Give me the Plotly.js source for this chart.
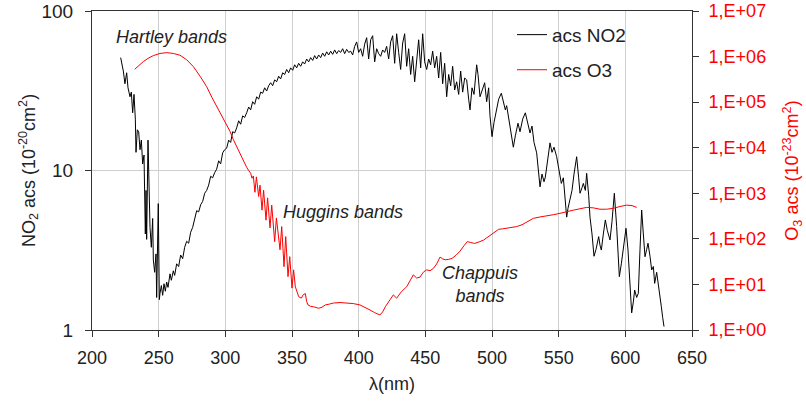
<!DOCTYPE html>
<html>
<head>
<meta charset="utf-8">
<script src="https://cdn.plot.ly/plotly-3.0.1.min.js"></script>
<style>html,body{margin:0;padding:0;background:#fff;}#chart{width:806px;height:406px;}</style>
</head>
<body>
<div id="chart"></div>
<script>
// NO2 absorption cross-section (10^-20 cm^2), wavelength in nm
const no2Wavelength = [221.5,222.5,223.5,224.7,226,227,228.5,229.5,230.5,231.5,232.5,233,234,235,236,237,238,239,240,240.5,241,242,243,243.5,244.5,245.5,246,247,248,248.5,249.7,250.5,251,252,253,254,255,256,257,258.5,259.5,261,262,263.5,265,266.5,268,269.5,271,272.5,274,275.5,277,278.5,280,281.5,283,284.5,286,287.5,289,290.5,292,293.5,295,296.5,298,299.5,301,302.5,304,305.5,307,308.5,310,311.5,313,314.5,316,317.5,319,320.5,322,323.5,325,326.5,328,329.5,331,332.5,334,335.5,337,338.5,340,341.5,343,344.5,346,347.5,349,350.5,352,353.5,355,356.5,358,359.5,361,362.5,364,365.5,367,368.5,370,371.5,373,374.5,376,377.5,379,380.5,382,383.5,385,386.5,388,389.5,391,392.5,394,395.5,397,398.5,400,401.5,403,404.5,406,407.5,409,410.5,412,413.5,415,416.5,418,419.5,421,422.5,424,425.5,427,428.5,430,431.5,433,434.5,436,437.5,439,440.5,442,443.5,445,446.5,448,449.5,451,452.5,454,455.5,457,458.5,460,461.5,463,464.5,466,467.5,469,470.5,472,473.5,475,476.5,478,479.5,481,482.5,483.5,485,486.5,488.5,489.5,491,492.5,494.5,496,497.5,498.5,500,501.5,503.5,505,507,508.5,510,511,513,514.5,516,517.5,519.5,521,523,525,526.5,528.5,530,531.5,533.5,535,536,537.5,539,540,541.5,543.5,545,546.5,548.5,550,552,553.5,555,556,557,558.5,560,561.5,563.5,565,566,567.5,568.5,570,571,572.5,573.5,575,576.5,578,580,581,582,583.5,585,586.5,588.5,590,591.75,593.5,594.5,595.5,597,598.5,600.5,602,603.5,604.75,606,607,608.5,609.75,611,612.25,613.5,614.75,616,617,618.5,619.75,621,622,623.5,624.75,626,627,628,629];
const no2Acs = [51,47,42,35,41,33,29,31,23,30,21,13,18,17.5,13.5,15.5,11,12.5,4,7.5,3.7,15.5,6,4.4,3.3,5,2.75,2.3,3,1.6,6.2,1.55,1.7,1.9,1.65,1.95,1.75,2.0,1.85,2.25,2.05,2.35,2.2,2.6,2.5,2.95,2.8,3.3,3.6,3.5,4.1,4.4,4.9,5.6,5.5,6.1,6.4,7.2,7.5,8.1,9.2,9.0,9.7,10.2,11.5,11.0,12.9,13.5,13.8,15.5,15.0,17.5,17.2,18.5,20.5,19.5,22,21.5,23,25,24,27,26,29,28,31,30.5,33,31.5,34,35.5,34,37,36,39,37.5,41,40,43,41,44,42.5,46,44,47,45,48,46.5,50,48,51,49,52.5,50,53,51,54.5,52,55.5,53,56,53.5,57,54,56.5,55,58,54,57.5,55,56,53,60,64,55,58,52,62,68,50,66,70,48,58,54,52,57,55,60,50,64,70,47,72,55,43,63,72,45,58,40,52,36,47,66,44,72,48,43,50,46,56,44,52,38,55,35,47,29,40,34,45,32,36,30,42,31,38,37,28,24,33,30,46,40,29,32,35.5,27,33,22,16.3,20,24,28,30.5,27,24,25.5,20,17,14,16.5,19.8,17.5,21,23,20,17.2,19,15,12.9,10,7.9,9.5,8.5,9.1,11.5,14.9,13,14,12.2,10.5,8.3,9,6.5,5.1,5.8,6.5,7.5,9.5,12.2,9,7.2,7.8,8.3,7.5,9.6,7,5.1,4,2.9,3.2,3.85,3.4,3.17,4.0,4.9,4.2,3.67,4.8,7.2,4.45,3,2.16,2.6,3.17,4.34,3.17,1.8,1.28,1.5,1.78,1.6,1.7,3.2,5.65,4,2.88,3.2,3.5,2.9,2.38,2.5,1.96,2.3,1.87,1.6,1.4,1.2,1.05];

// O3 absorption cross-section (10^-23 cm^2), wavelength in nm
const o3Wavelength = [232,235,238.5,242,246,251,256,261,266,271,276,281,286,290,293.5,297,300,303.5,306,308.5,311,313.5,316,317.5,319,320,321,322.2,323.3,325,326,327.5,328.7,330.5,331.7,333.5,334.8,337,338.3,341,342.3,344,345.3,347,348.3,350,351.2,352.5,355,357,358.5,360,361,362,364,366,368,370,372.5,375,378,381,386,391,396,401,405,408.5,412,416,418,420,423.5,426,428.5,432,436,438.5,441,443.5,446,448.5,451,453.5,456,458.5,461,463,465,467.5,470,473,476,479,481.5,484,487,490,493.5,496,498.5,502,505,508,511,514.5,518.5,522.5,527,531,536,541,546,551,556,561,566,571,576,581,586,591,596,601,605,608.5];
const o3Acs = [5.25e5,6.31e5,7.76e5,9.12e5,1.05e6,1.17e6,1.22e6,1.17e6,1.07e6,8.51e5,6.03e5,3.72e5,2.19e5,1.26e5,7.94e4,5.01e4,3.47e4,2.29e4,1.51e4,1.05e4,7590,5370,3720,3160,2750,2140,2400,1050,2290,851,1510,427,1170,257,794,174,550,87,288,57.5,186,24.5,112,14.8,40.7,8.3,20.9,8.9,5.4,5.0,6.0,6.3,4.2,3.55,3.3,3.24,3.1,3.0,3.16,3.55,3.7,3.9,4.0,3.9,3.8,3.55,3.16,2.75,2.4,2.14,2.5,3.24,4.6,5.9,5.0,6.9,8.9,12.0,16.2,13.8,14.5,18.6,20.9,20.0,22.4,28.2,39.8,36.3,34.7,35.5,37.2,43.7,53.7,70.8,87.1,83.2,79.4,85.1,93.3,105,120,141,162,166,170,178,186,204,240,282,302,316,339,363,398,427,457,490,479,447,447,468,513,550,537,490];

// Axis ticks
const xTicks = [200,250,300,350,400,450,500,550,600,650];
const no2Ticks = [1,10,100];
const no2TickLabels = ['1','10','100'];
const o3Ticks = [1,10,100,1e3,1e4,1e5,1e6,1e7];
const o3TickLabels = ['1,E+00','1,E+01','1,E+02','1,E+03','1,E+04','1,E+05','1,E+06','1,E+07'];

const FONT = 'Liberation Sans, Arial, sans-serif';

const traces = [
  {x: no2Wavelength, y: no2Acs, type: 'scatter', mode: 'lines', name: 'acs NO2',
   line: {color: '#000000', width: 1}, yaxis: 'y', legend: 'legend'},
  {x: o3Wavelength, y: o3Acs, type: 'scatter', mode: 'lines', name: 'acs O3',
   line: {color: '#ff0000', width: 1}, yaxis: 'y2', legend: 'legend2'}
];

const layout = {
  width: 806, height: 406,
  margin: {l: 92, r: 114, t: 11, b: 76},
  paper_bgcolor: '#ffffff', plot_bgcolor: '#ffffff',
  font: {family: FONT, size: 18, color: '#222222'},
  showlegend: true,
  hovermode: false,
  xaxis: {
    range: [200, 650], tickvals: xTicks, ticktext: xTicks.map(String),
    showgrid: true, gridcolor: '#cfcfcf', gridwidth: 1,
    zeroline: false, showline: true, linecolor: '#333333', linewidth: 1, mirror: true,
    ticks: 'outside', ticklen: 6, tickcolor: '#333333', ticklabelstandoff: 5,
    tickfont: {family: FONT, size: 18, color: '#222222'},
    title: {text: 'λ(nm)', font: {family: FONT, size: 18, color: '#222222'}, standoff: 10}
  },
  yaxis: {
    type: 'log', range: [0, 2], tickvals: no2Ticks, ticktext: no2TickLabels,
    showgrid: true, gridcolor: '#cfcfcf', gridwidth: 1,
    zeroline: false, showline: true, linecolor: '#333333', linewidth: 1,
    ticks: 'outside', ticklen: 6, tickcolor: '#333333', ticklabelstandoff: 8,
    tickfont: {family: FONT, size: 19, color: '#222222'},
    title: {text: 'NO<sub>2</sub> acs (10<sup>-20</sup>cm<sup>2</sup>)', font: {family: FONT, size: 18, color: '#222222'}, standoff: 1}
  },
  yaxis2: {
    type: 'log', range: [0, 7], overlaying: 'y', side: 'right',
    tickvals: o3Ticks, ticktext: o3TickLabels,
    showgrid: false, zeroline: false, showline: true, linecolor: '#333333', linewidth: 1,
    ticks: 'outside', ticklen: 6, tickcolor: '#333333', ticklabelstandoff: 6,
    tickfont: {family: FONT, size: 18, color: '#ff0000'},
    title: {text: 'O<sub>3</sub> acs (10<sup>-23</sup>cm<sup>2</sup>)', font: {family: FONT, size: 18, color: '#ff0000'}, standoff: 20}
  },
  yaxis3: {
    type: 'log', range: [0, 7], overlaying: 'y', side: 'right',
    tickvals: o3Ticks, showticklabels: false,
    showgrid: false, zeroline: false, showline: false,
    ticks: 'inside', ticklen: 6, tickcolor: '#333333'
  },
  legend: {x: 0.70, y: 0.985, xanchor: 'left', yanchor: 'top', bgcolor: 'rgba(0,0,0,0)',
    font: {family: FONT, size: 19, color: '#222222'}, itemwidth: 30},
  legend2: {x: 0.70, y: 0.875, xanchor: 'left', yanchor: 'top', bgcolor: 'rgba(0,0,0,0)',
    font: {family: FONT, size: 19, color: '#222222'}, itemwidth: 30},
  annotations: [
    {text: '<i>Hartley bands</i>', xref: 'paper', yref: 'paper', x: 0.133, y: 0.918,
     xanchor: 'center', yanchor: 'middle',
     showarrow: false, font: {family: FONT, size: 18, color: '#222222'}},
    {text: '<i>Huggins bands</i>', xref: 'paper', yref: 'paper', x: 0.418, y: 0.37,
     xanchor: 'center', yanchor: 'middle',
     showarrow: false, font: {family: FONT, size: 18, color: '#222222'}},
    {text: '<i>Chappuis</i><br><i>bands</i>', xref: 'paper', yref: 'paper', x: 0.647, y: 0.143,
     xanchor: 'center', yanchor: 'middle',
     showarrow: false, font: {family: FONT, size: 18, color: '#222222'}}
  ]
};

Plotly.newPlot('chart', traces, layout, {displayModeBar: false, staticPlot: true});
</script>
</body>
</html>
